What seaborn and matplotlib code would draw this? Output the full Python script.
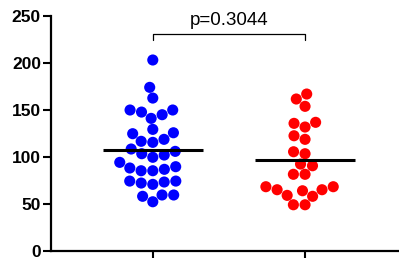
import numpy as np
import pandas as pd
import matplotlib
matplotlib.use('Agg')
import matplotlib.pyplot as plt
import seaborn as sns

# values
group_a = [202.9, 173.8, 162.4, 149.7, 144.7, 140.8, 147.5, 149.7, 129.1, 124.5,
           125.5, 118.5, 115.3, 116.4, 105.7, 108.2, 103.2, 101.8, 99.4, 94.0,
           85.1, 89.4, 86.6, 88.0, 85.1, 74.1, 72.0, 70.6, 73.1, 74.1,
           59.3, 52.1, 57.9, 59.3]
group_b = [166.7, 161.4, 153.6, 135.5, 131.6, 136.6, 122.3, 118.5, 105.3, 103.2,
           90.4, 92.2, 81.3, 81.3, 68.1, 63.8, 64.9, 64.9, 68.1, 57.9,
           58.9, 48.9, 48.9]
groups = ['A', 'B']
colors = ['#0000ff', '#ff0000']
p_text = 'p=0.3044'
yticks = [0, 50, 100, 150, 200, 250]

df = pd.DataFrame({
    'group': ['A'] * len(group_a) + ['B'] * len(group_b),
    'value': group_a + group_b,
})

sns.set_style('ticks')
plt.rcParams['font.family'] = ['Liberation Sans', 'DejaVu Sans']
plt.rcParams['text.color'] = 'black'

fig = plt.figure(figsize=(3.99, 2.62), dpi=100)
ax = fig.add_axes([0.128, 0.043, 0.872, 0.897])

sns.swarmplot(data=df, x='group', y='value', hue='group', order=groups,
              palette=dict(zip(groups, colors)), size=8, linewidth=0,
              legend=False, ax=ax)

# mean lines
for i, vals in enumerate([group_a, group_b]):
    ax.hlines(np.mean(vals), i - 0.33, i + 0.33, color='black', linewidth=2.2, zorder=5)

# significance bracket
ax.plot([0, 0, 1, 1], [224, 230.5, 230.5, 224], color='black', linewidth=0.9, clip_on=False)
ax.text(0.5, 236, p_text, ha='center', va='bottom', fontsize=13.5, color='black', clip_on=False)

ax.set_ylim(0, 250)
ax.set_xlim(-0.668, 1.617)
ax.set_yticks(yticks)
ax.set_xticks([0, 1])
ax.set_xticklabels(['', ''])
ax.set_xlabel('')
ax.set_ylabel('')
for lab in ax.get_yticklabels():
    lab.set_fontweight('bold')
ax.tick_params(axis='y', labelsize=12.5, length=5.8, width=1.5, pad=1.5,
               color='black', labelcolor='black')
ax.tick_params(axis='x', length=5, width=1.5, color='black')
sns.despine(ax=ax)
for s in ['left', 'bottom']:
    ax.spines[s].set_linewidth(1.6)
    ax.spines[s].set_color('black')

fig.savefig('out.png', dpi=100)
